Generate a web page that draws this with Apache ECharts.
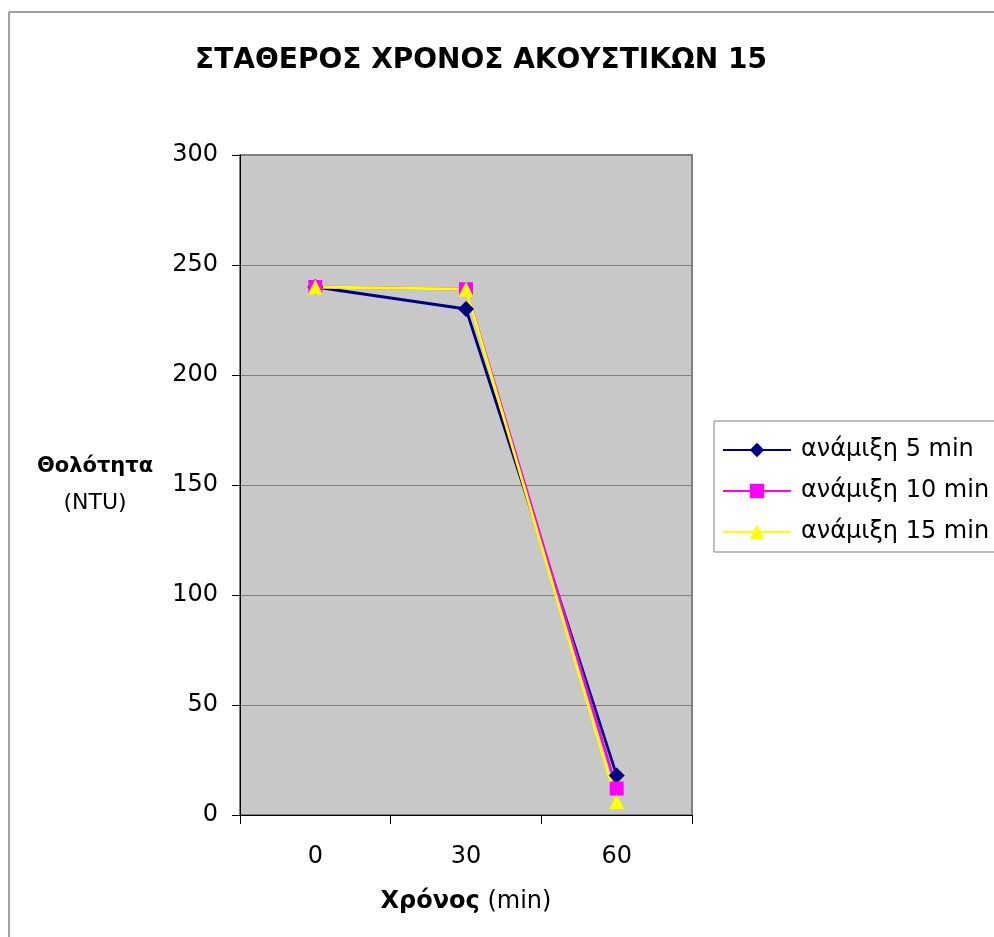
<!DOCTYPE html>
<html><head><meta charset="utf-8">
<script src="https://cdn.jsdelivr.net/npm/echarts@6/dist/echarts.min.js"></script>
<style>html,body{margin:0;padding:0;background:#fff}#c{width:994px;height:937px}</style>
</head><body><div id="c"></div>
<script>
const categories = ['0', '30', '60'];
const seriesNames = ['ανάμιξη 5 min', 'ανάμιξη 10 min', 'ανάμιξη 15 min'];
const mix5 = [240, 230, 18];
const mix10 = [240, 239, 12];
const mix15 = [240, 239, 6];
const yTicks = [0, 50, 100, 150, 200, 250, 300];

const FONT = '"DejaVu Sans", "Noto Sans", sans-serif';
const chart = echarts.init(document.getElementById('c'));
const mk = (name, data, color, symbol, size) => ({
  name, type: 'line', data, symbol, symbolSize: size,
  lineStyle: {color, width: 2.8}, itemStyle: {color},
  animation: false
});
chart.setOption({
  backgroundColor: '#fff',
  animation: false,
  textStyle: {fontFamily: FONT},
  title: {
    text: 'ΣΤΑΘΕΡΟΣ ΧΡΟΝΟΣ ΑΚΟΥΣΤΙΚΩΝ 15',
    left: 476, top: 42, textAlign: 'center',
    textStyle: {fontFamily: FONT, fontSize: 28, fontWeight: 'bold', color: '#000'}
  },
  grid: {left: 240, top: 155, width: 452, height: 660, show: true,
         backgroundColor: '#c8c8c8', borderColor: '#808080', borderWidth: 2},
  legend: {
    orient: 'vertical', left: 714, top: 421,
    itemWidth: 68, itemHeight: 18, itemGap: 17,
    padding: [17, 40, 8, 8],
    borderColor: '#808080', borderWidth: 1, backgroundColor: '#fff',
    textStyle: {fontFamily: FONT, fontSize: 24, color: '#000', padding: [0, 0, 0, 5]},
    data: seriesNames
  },
  xAxis: {
    type: 'category', data: categories, boundaryGap: true,
    axisLine: {lineStyle: {color: '#000', width: 1}},
    axisTick: {show: true, length: 9, lineStyle: {color: '#000'}},
    axisLabel: {fontFamily: FONT, fontSize: 24, color: '#000', margin: 30},
    name: '{b|Χρόνος} {r|(min)}', nameLocation: 'middle', nameGap: 75,
    nameTextStyle: {fontSize: 24, fontFamily: FONT, color: '#000', rich: {
      b: {fontFamily: FONT, fontSize: 24, fontWeight: 'bold', color: '#000'},
      r: {fontFamily: FONT, fontSize: 24, color: '#000'}
    }}
  },
  yAxis: {
    type: 'value', min: 0, max: 300, interval: 50,
    axisLine: {show: true, lineStyle: {color: '#000', width: 1}},
    axisTick: {show: true, length: 8, lineStyle: {color: '#000'}},
    axisLabel: {fontFamily: FONT, fontSize: 24, color: '#000', margin: 22,
      formatter: v => yTicks.includes(v) ? String(v) : ''},
    splitLine: {show: true, lineStyle: {color: '#808080', width: 1}},
    name: '{b|Θολότητα}\n{r|(NTU)}', nameLocation: 'middle', nameGap: 145, nameRotate: 0,
    nameTextStyle: {align: 'center', fontSize: 22, fontFamily: FONT, color: '#000', rich: {
      b: {fontFamily: FONT, fontSize: 21, fontWeight: 'bold', color: '#000', lineHeight: 36, align: 'center'},
      r: {fontFamily: FONT, fontSize: 22, color: '#000', lineHeight: 36, align: 'center'}
    }}
  },
  graphic: [
    {type: 'line', shape: {x1: 9, y1: 12, x2: 994, y2: 12}, style: {stroke: '#808080', lineWidth: 1.5}},
    {type: 'line', shape: {x1: 9, y1: 12, x2: 9, y2: 937}, style: {stroke: '#808080', lineWidth: 1.5}}
  ],
  series: [
    mk(seriesNames[0], mix5, '#000080', 'diamond', 16),
    mk(seriesNames[1], mix10, '#ff00ff', 'rect', 14),
    mk(seriesNames[2], mix15, '#ffff00', 'triangle', 15)
  ]
});
</script></body></html>
